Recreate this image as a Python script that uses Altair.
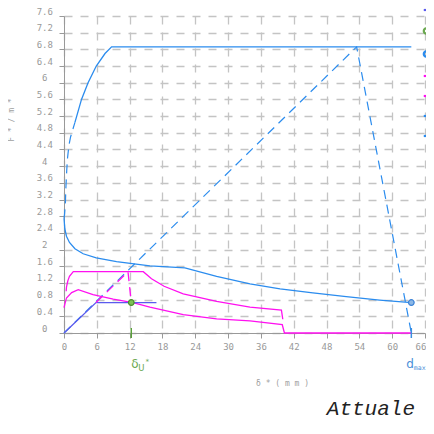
import altair as alt
import pandas as pd

# ---------------- data ----------------
x_ticks = list(range(0, 67, 6))
y_ticks = [round(i * 0.4, 1) for i in range(20)]

S_BIL = "Bilineare equivalente"
S_DU = "δu*"
S_DMAX = "dmax"
S_MUP = "Spettro SLC"
S_MLO = "Spettro SLV"
S_CAP = "Curva di capacità"
S_SPE = "Spettro elastico"
series_order = [S_BIL, S_DU, S_DMAX, S_MUP, S_MLO, S_CAP, S_SPE]
series_colors = ["#5a5aee", "#6aa84f", "#2b8cee", "#ff10f0", "#ff10f0", "#2b8cee", "#2b8cee"]
series_shapes = ["stroke", "circle", "circle", "stroke", "stroke", "stroke", "stroke"]
col_of = dict(zip(series_order, series_colors))

# bilinear (purple)
bil_x = [0, 5.85, 16.9]
bil_y = [0, 0.73, 0.73]

# capacity curve (blue, decaying)
cap_x = [0, 0.15, 0.45, 1.0, 2.0, 3.5, 5.9, 9.6, 15.7, 22.1, 27.9, 34.0, 39.5, 45.5, 51.6, 57.7, 63.5]
cap_y = [2.75, 2.5, 2.32, 2.17, 2.02, 1.9, 1.8, 1.71, 1.61, 1.56, 1.36, 1.18, 1.06, 0.96, 0.87, 0.79, 0.73]

# elastic spectrum (blue): dashed lower part, solid upper part + plateau
spe_dash_x = [0, 0.1, 0.25, 0.35, 0.5, 0.65, 0.9, 1.2, 2.0]
spe_dash_y = [2.75, 2.85, 3.1, 3.5, 3.9, 4.2, 4.5, 4.7, 5.05]
spe_x = [2.0, 3.2, 4.4, 5.9, 7.5, 8.7, 63.5]
spe_y = [5.05, 5.6, 6.0, 6.4, 6.7, 6.86, 6.86]

# upper magenta
mup_x = [0.4, 0.45, 0.7, 1.0, 1.7, 14.5, 16.0, 18.3, 21.8, 27.9, 34.0, 39.75, 40.0]
mup_y = [1.0, 1.1, 1.25, 1.36, 1.47, 1.47, 1.3, 1.12, 0.94, 0.76, 0.62, 0.55, 0.33]

# lower magenta
mlo_x = [0, 0.45, 1.4, 2.6, 5.3, 9.0, 12.6, 15.7, 21.8, 27.9, 34.0, 39.9, 40.3, 63.5]
mlo_y = [0.61, 0.84, 0.97, 1.04, 0.92, 0.81, 0.73, 0.62, 0.44, 0.34, 0.29, 0.2, 0.0, 0.0]

# blue dashed elastic line and drop
eld_x = [0, 53.5, 63.5]
eld_y = [0, 6.86, 0]

# magenta dashed construction
mgd_x = [5.85, 11.7, 12.3]
mgd_y = [0.73, 1.47, 0.73]

# markers
du_x, du_y = 12.3, 0.73
dmax_x, dmax_y = 63.5, 0.73

# ---------------- tables ----------------
def rows(name, xs, ys):
    return [{"series": name, "col": col_of.get(name, "#2b8cee"), "i": i, "x": a, "y": b}
            for i, (a, b) in enumerate(zip(xs, ys))]

solid = pd.DataFrame(
    rows(S_CAP, cap_x, cap_y) + rows(S_SPE, spe_x, spe_y)
    + rows(S_MUP, mup_x, mup_y) + rows(S_MLO, mlo_x, mlo_y) + rows(S_BIL, bil_x, bil_y)
)
blue_dash = pd.DataFrame(rows("a", eld_x, eld_y) + rows("b", spe_dash_x, spe_dash_y))
mag_dash = pd.DataFrame(rows("c", mgd_x, mgd_y))
pts = pd.DataFrame({
    "x": [du_x, dmax_x], "y": [du_y, dmax_y],
    "fill": ["#7dbf55", "#8db8e6"], "stroke": ["#4a8f2a", "#3b82d6"],
})
marks_df = pd.DataFrame({"x": [du_x, dmax_x], "col": ["#5aa03a", "#3b8ee0"]})
legend_df = pd.DataFrame({"series": series_order, "x": [0] * 7, "y": [0] * 7})

W, H = 361, 317
mono = "DejaVu Sans Mono"

xs = alt.Scale(domain=[0, 66], nice=False, zero=False)
ys = alt.Scale(domain=[0, 7.6], nice=False, zero=False)

x_axis = alt.Axis(
    values=x_ticks, title="δ   *   ( m m )", grid=True, gridDash=[8, 8], gridColor="#c4c4c4",
    gridWidth=1.3, domainColor="#999", tickColor="#999", tickSize=5, labelFont=mono,
    labelFontSize=9, labelColor="#999", labelPadding=4, labelFlush=False,
    labelOffset={"condition": {"test": "datum.value >= 66", "value": -4.5}, "value": 0},
    titleFont=mono, titleFontSize=8, titleColor="#a0a0a0", titleFontWeight="normal",
    titleX=218, titleY=50, titleAlign="center", titleBaseline="middle",
)
y_axis = alt.Axis(
    values=y_ticks, labelExpr="toString(round(datum.value*10)/10)", title="F * / m    *",
    grid=True, gridDash=[8, 8], gridColor="#c4c4c4", gridWidth=1.3, domainColor="#999",
    tickColor="#999", tickSize=5, labelFont=mono, labelFontSize=9, labelColor="#999",
    labelAlign="center", labelPadding=14.7, labelOffset=-5, labelFlush=False,
    titleFont=mono, titleFontSize=8, titleColor="#a0a0a0", titleFontWeight="normal",
    titleX=-52.7, titleY=103.6, titleAlign="center", titleBaseline="middle",
)

legend = alt.Legend(
    orient="none", legendX=357, legendY=-11.5, title=None, padding=0, rowPadding=8,
    labelFontSize=11, labelExpr="''", symbolSize=30, symbolStrokeWidth=2.2, symbolOpacity=1,
)
color_scale = alt.Scale(domain=series_order, range=series_colors)
shape_scale = alt.Scale(domain=series_order, range=series_shapes)

base_x = alt.X("x:Q", scale=xs, axis=x_axis)
base_y = alt.Y("y:Q", scale=ys, axis=y_axis)

l_blue_dash = alt.Chart(blue_dash).mark_line(strokeWidth=1.2, strokeDash=[9, 6], color="#2b8cee").encode(
    x=base_x, y=base_y, detail="series:N", order="i:Q")

l_solid = alt.Chart(solid).mark_line(strokeWidth=1.3).encode(
    x=base_x, y=base_y, detail="series:N",
    color=alt.Color("col:N", scale=None),
    order="i:Q")

l_mag_dash = alt.Chart(mag_dash).mark_line(strokeWidth=1.3, strokeDash=[9, 6], color="#ff10f0").encode(
    x=base_x, y=base_y, order="i:Q")

# legend-only layer (no rows drawn)
l_legend = alt.Chart(legend_df).transform_filter("false").mark_point(
    filled=False, strokeWidth=2.2, size=30).encode(
    x=base_x, y=base_y,
    color=alt.Color("series:N", scale=color_scale, legend=legend),
    shape=alt.Shape("series:N", scale=shape_scale, legend=legend))

l_pts = alt.Chart(pts).mark_point(filled=True, size=32, strokeWidth=1.2, opacity=1).encode(
    x=base_x, y=base_y,
    fill=alt.Fill("fill:N", scale=None), stroke=alt.Stroke("stroke:N", scale=None))

l_ticks = alt.Chart(marks_df).mark_rule(strokeWidth=1.5).encode(
    x=base_x, y=alt.value(H - 5), y2=alt.value(H + 5), color=alt.Color("col:N", scale=None))

# δU* label (green)
l_du = alt.Chart(pd.DataFrame({"x": [du_x], "t": ["δ"]})).mark_text(
    align="left", baseline="middle", fontSize=12, font="DejaVu Sans", color="#6aa84f").encode(
    x=base_x, y=alt.value(H + 31), text="t:N")
l_sub_u = alt.Chart(pd.DataFrame({"x": [du_x], "t": ["U"]})).mark_text(
    align="left", baseline="middle", fontSize=8.5, font="DejaVu Sans", dx=7, color="#6aa84f").encode(
    x=base_x, y=alt.value(H + 35), text="t:N")
l_star_u = alt.Chart(pd.DataFrame({"x": [du_x], "t": ["*"]})).mark_text(
    align="left", baseline="middle", fontSize=7, font=mono, dx=14, color="#6aa84f").encode(
    x=base_x, y=alt.value(H + 29), text="t:N")

# dmax label (blue), kept inside the drawing
l_dm = alt.Chart(pd.DataFrame({"x": [dmax_x], "t": ["d"]})).mark_text(
    align="left", baseline="middle", fontSize=12, font="DejaVu Sans", dx=-5, color="#4a90d9").encode(
    x=base_x, y=alt.value(H + 31), text="t:N")
l_sub_max = alt.Chart(pd.DataFrame({"x": [dmax_x], "t": ["max"]})).mark_text(
    align="left", baseline="middle", fontSize=6.5, font=mono, dx=2.5, color="#4a90d9").encode(
    x=base_x, y=alt.value(H + 35), text="t:N")

chart = alt.layer(
    l_blue_dash, l_solid, l_mag_dash, l_legend, l_pts, l_ticks,
    l_du, l_sub_u, l_star_u, l_dm, l_sub_max
).properties(
    width=W, height=H,
    autosize=alt.AutoSizeParams(type="none"),
    padding={"left": 56, "top": 8, "right": 1, "bottom": 88},
    title=alt.TitleParams(
        "Attuale", orient="bottom", anchor="end", frame="group", font="Liberation Mono",
        fontStyle="italic", fontSize=21, fontWeight="normal", color="#222", dx=-10, offset=11),
).configure_view(strokeWidth=0)

chart.save("out.html", embed_options={"renderer": "svg", "actions": False})
